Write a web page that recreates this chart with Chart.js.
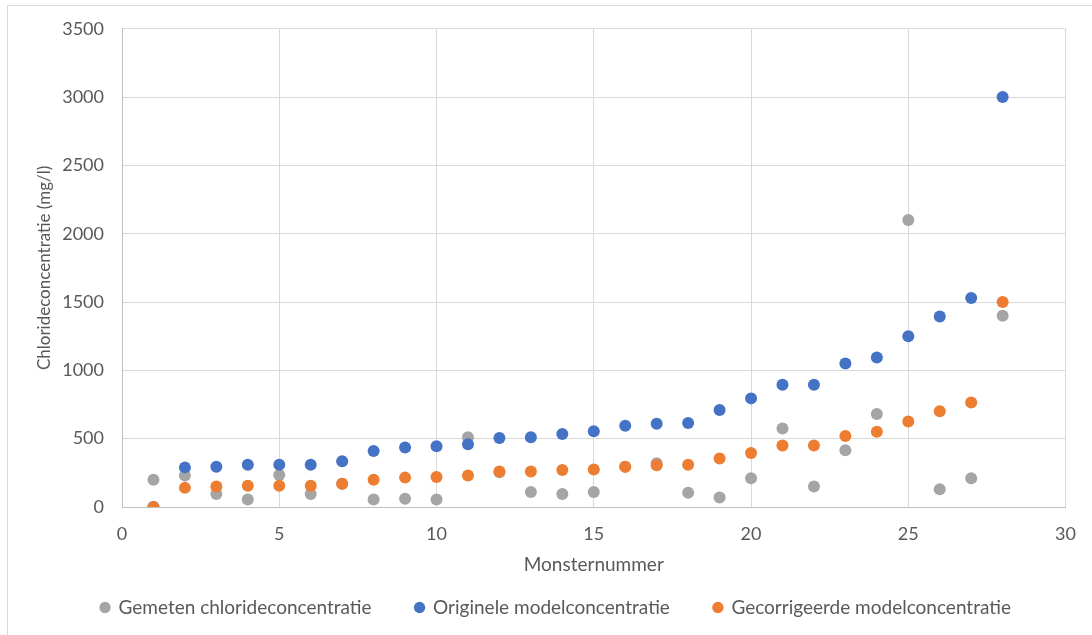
<!DOCTYPE html>
<html lang="nl">
<head>
  <meta charset="UTF-8">
  <title>Chlorideconcentratie per monster</title>
  <script src="https://cdn.jsdelivr.net/npm/chart.js@4.4.2/dist/chart.umd.min.js"></script>
  <style>
    html, body {
      margin: 0;
      padding: 0;
      background: #ffffff;
      overflow: hidden;
    }
    .frame {
      position: absolute;
      left: 7px;
      top: 5px;
      width: 1100px;
      height: 640px;
      border: 1px solid #d9d9d9;
      pointer-events: none;
    }
    .chart-box {
      position: absolute;
      left: 0;
      top: 0;
      width: 1092px;
      height: 635px;
    }
  </style>
</head>
<body>
<div class="chart-box"><canvas id="chlorideChart" width="1092" height="635"></canvas></div>
<div class="frame"></div>
<script>
  // Monsternummers 1..28
  const monsters = [1, 2, 3, 4, 5, 6, 7, 8, 9, 10, 11, 12, 13, 14, 15, 16, 17, 18, 19, 20, 21, 22, 23, 24, 25, 26, 27, 28];

  // Chlorideconcentratie (mg/l)
  const gemeten = [200, 230, 95, 55, 235, 95, 170, 55, 60, 55, 510, 255, 110, 95, 110, 295, 320, 105, 70, 210, 575, 150, 415, 680, 2100, 130, 210, 1400];
  const origineel = [0, 290, 295, 310, 310, 310, 335, 410, 435, 445, 460, 505, 510, 535, 555, 595, 610, 615, 710, 795, 895, 895, 1050, 1095, 1250, 1395, 1530, 3000];
  const gecorrigeerd = [0, 140, 150, 155, 155, 155, 170, 200, 215, 220, 230, 260, 260, 270, 275, 295, 305, 310, 355, 395, 450, 450, 520, 550, 625, 700, 765, 1500];

  const seriesNames = ['Gemeten chlorideconcentratie', 'Originele modelconcentratie', 'Gecorrigeerde modelconcentratie'];
  const seriesColors = ['#a5a5a5', '#4472c4', '#ed7d31'];

  function toPoints(values) {
    return monsters.map(function (m, i) { return { x: m, y: values[i] }; });
  }

  const textColor = '#595959';
  const gridColor = '#d9d9d9';
  const fontFamily = 'Lato, "Open Sans", sans-serif';
  const plainTick = function (value) { return String(value); };

  new Chart(document.getElementById('chlorideChart'), {
    type: 'scatter',
    data: {
      datasets: [gemeten, origineel, gecorrigeerd].map(function (vals, i) {
        return {
          label: seriesNames[i],
          data: toPoints(vals),
          backgroundColor: seriesColors[i],
          borderColor: seriesColors[i],
          borderWidth: 0,
          pointRadius: 6,
          pointHoverRadius: 6,
          order: 3 - i
        };
      })
    },
    options: {
      responsive: false,
      animation: false,
      layout: { padding: { left: 34, right: 14, top: 22, bottom: 8 } },
      plugins: {
        tooltip: { enabled: false },
        legend: {
          position: 'bottom',
          labels: {
            usePointStyle: true,
            pointStyle: 'circle',
            boxWidth: 8,
            boxHeight: 8,
            padding: 44,
            color: textColor,
            font: { family: fontFamily, size: 19 },
            sort: function (a, b) { return a.datasetIndex - b.datasetIndex; }
          }
        }
      },
      scales: {
        x: {
          type: 'linear',
          min: 0,
          max: 30,
          ticks: {
            stepSize: 5,
            padding: 16,
            color: textColor,
            font: { family: fontFamily, size: 18 },
            callback: plainTick
          },
          grid: { color: gridColor, drawTicks: false },
          border: { color: '#bfbfbf' },
          title: {
            display: true,
            text: 'Monsternummer',
            color: textColor,
            font: { family: fontFamily, size: 19 },
            padding: { top: 0, bottom: -22 }
          },
          afterFit: function (scale) { scale.height = 47; }
        },
        y: {
          min: 0,
          max: 3500,
          ticks: {
            stepSize: 500,
            padding: 18,
            color: textColor,
            font: { family: fontFamily, size: 18 },
            callback: plainTick
          },
          grid: { color: gridColor, drawTicks: false },
          border: { color: '#bfbfbf' },
          title: {
            display: true,
            text: 'Chlorideconcentratie (mg/l)',
            color: textColor,
            font: { family: fontFamily, size: 17 },
            padding: { top: 0, bottom: 0 }
          },
          afterFit: function (scale) { scale.width = 88; }
        }
      }
    }
  });
</script>
</body>
</html>
